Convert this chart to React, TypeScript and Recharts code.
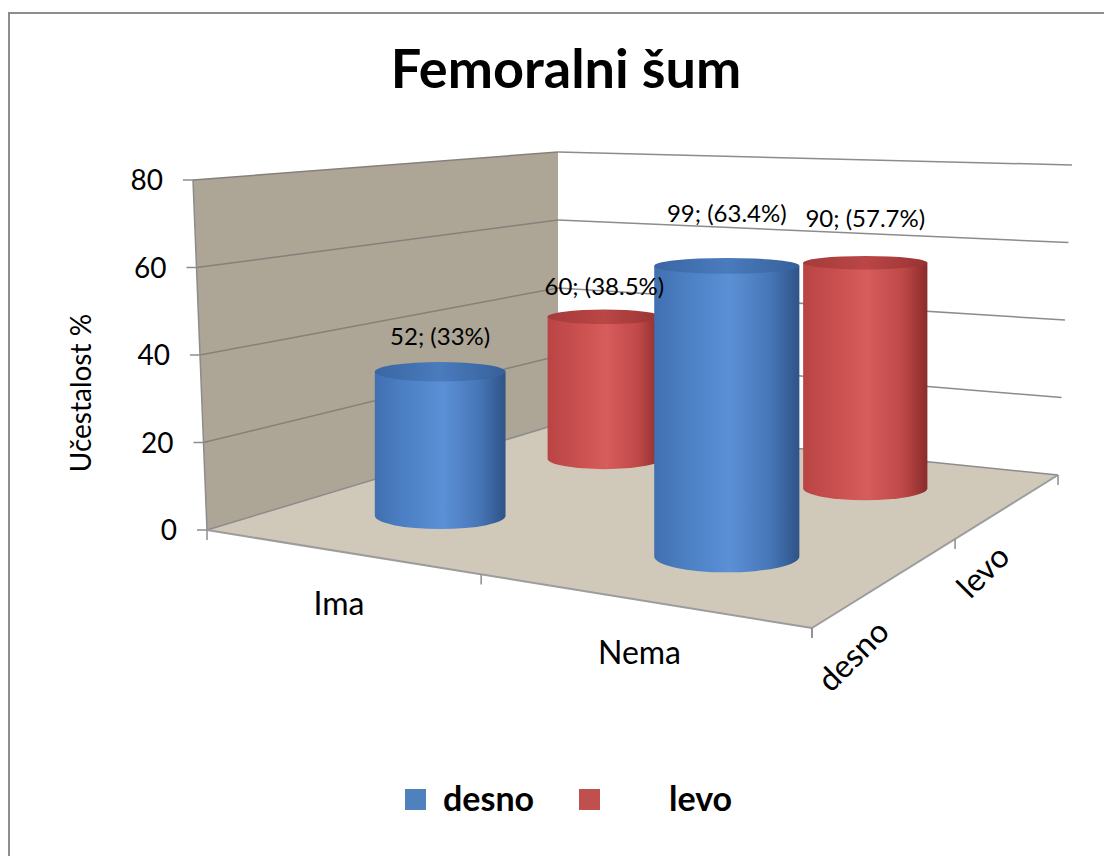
import { BarChart, Bar, XAxis, YAxis, Legend, Customized, LabelList } from "recharts";

// ---- data ----
const categories = ["Ima", "Nema"];
const desnoPercent = [33, 63.4];
const levoPercent = [38.5, 57.7];
const desnoCount = [52, 99];
const levoCount = [60, 90];
const yTicks = [0, 20, 40, 60, 80];
const seriesNames = ["desno", "levo"];

const data = categories.map((name, i) => ({
  name,
  desno: desnoPercent[i],
  levo: levoPercent[i],
}));

// ---- layout ----
const W = 1104;
const H = 848;
const FONT = "Lato, 'Open Sans', sans-serif";
const PLOT = { left: 199, top: 172, right: 804, bottom: 522 };
const Y_MAX = 80;
const AXIS_K = (PLOT.bottom - PLOT.top) / Y_MAX;
const BAR_SIZE = 134;

const COLORS: Record<string, string> = { desno: "#4f81bd", levo: "#c0504d" };
const DEPTH: Record<string, number> = { desno: 0.25, levo: 0.75 };

// floor corners: front-left, front-right, back-right, back-left
const FLOOR: [number, number][] = [
  [PLOT.left, PLOT.bottom],
  [PLOT.right, PLOT.bottom + 98],
  [PLOT.right + 246, PLOT.bottom - 55],
  [PLOT.left + 351, PLOT.bottom - 106],
];
// wall tops at the 80 line
const TOP_FL: [number, number] = [PLOT.left - 14, PLOT.top];
const TOP_BL: [number, number] = [FLOOR[3][0], 144];
const TOP_BR: [number, number] = [FLOOR[2][0] + 14, 157];
// vertical px per unit at the floor corners (fl, fr, br, bl)
const V_SCALE = [4.59, 5.03, 3.68, 3.24];
const HORIZON_Y = -31;

// square -> floor homography
function buildProjection(q: [number, number][]) {
  const [[x0, y0], [x1, y1], [x2, y2], [x3, y3]] = q;
  const dx1 = x1 - x2, dx2 = x3 - x2, dx3 = x0 - x1 + x2 - x3;
  const dy1 = y1 - y2, dy2 = y3 - y2, dy3 = y0 - y1 + y2 - y3;
  const den = dx1 * dy2 - dx2 * dy1;
  const g = (dx3 * dy2 - dx2 * dy3) / den;
  const h = (dx1 * dy3 - dx3 * dy1) / den;
  const a = x1 - x0 + g * x1, b = x3 - x0 + h * x3, c = x0;
  const d = y1 - y0 + g * y1, e = y3 - y0 + h * y3, f = y0;
  return (u0: number, w: number) => {
    const u = u0 + 0.04 * u0 * (1 - u0);
    const z = g * u + h * w + 1;
    return { x: (a * u + b * w + c) / z, y: (d * u + e * w + f) / z, z };
  };
}
const project = buildProjection(FLOOR);

function verticalScale(u: number, w: number) {
  const [fl, fr, br, bl] = V_SCALE;
  return (1 - u) * (1 - w) * fl + u * (1 - w) * fr + u * w * br + (1 - u) * w * bl;
}

const lerp = (p: [number, number], q: [number, number], t: number): [number, number] => [
  p[0] + (q[0] - p[0]) * t,
  p[1] + (q[1] - p[1]) * t,
];
const pts = (list: [number, number][]) => list.map((p) => p.join(",")).join(" ");

// place a bar (from the band scale) on the 3D floor
function cylinderGeometry(x: number, width: number, height: number, series: string) {
  const n = categories.length;
  const band = (PLOT.right - PLOT.left) / n;
  const slot = Math.min(n - 1, Math.max(0, Math.floor((x + width / 2 - PLOT.left) / band)));
  const u = (slot + 0.5) / n;
  const w = DEPTH[series];
  const base = project(u, w);
  const k = verticalScale(u, w);
  const rx = width / 2 / base.z;
  const h = (height / AXIS_K) * k;
  return { bx: base.x, by: base.y, ty: base.y - h, rx, k, u };
}

const TONES: Record<string, { body: string[]; top: string[] }> = {
  desno: {
    body: ["#4170b0", "#4d81c6", "#5b90d6", "#4676b7", "#2e5387"],
    top: ["#3a66a3", "#4a7bbd", "#36609a"],
  },
  levo: {
    body: ["#b94444", "#c94f4f", "#d75c5c", "#bf4848", "#8a2c2c"],
    top: ["#a53a3a", "#bb4646", "#983333"],
  },
};

function Cylinder(props: any) {
  const { x, width, height, series } = props;
  const { bx, by, ty, rx } = cylinderGeometry(x, width, height, series);
  const ryB = rx * (by - HORIZON_Y) * 0.000379;
  const ryT = rx * (ty - HORIZON_Y) * 0.000379;
  const tone = TONES[series];
  const bodyId = `cyl-body-${series}`;
  const topId = `cyl-top-${series}`;
  return (
    <g>
      <defs>
        <linearGradient id={bodyId} x1="0" y1="0" x2="1" y2="0">
          {[0, 0.25, 0.52, 0.8, 1].map((o, i) => (
            <stop key={i} offset={o} stopColor={tone.body[i]} />
          ))}
        </linearGradient>
        <linearGradient id={topId} x1="0" y1="0" x2="1" y2="0">
          {[0, 0.5, 1].map((o, i) => (
            <stop key={i} offset={o} stopColor={tone.top[i]} />
          ))}
        </linearGradient>
      </defs>
      <path
        d={`M${bx - rx},${ty} L${bx - rx},${by} A${rx},${ryB} 0 0 0 ${bx + rx},${by} L${bx + rx},${ty} Z`}
        fill={`url(#${bodyId})`}
      />
      <ellipse cx={bx} cy={ty} rx={rx} ry={ryT} fill={`url(#${topId})`} />
    </g>
  );
}

function makeLabel(series: string) {
  const counts = series === "desno" ? desnoCount : levoCount;
  const pcts = series === "desno" ? desnoPercent : levoPercent;
  return (props: any) => {
    const box = props.viewBox && props.viewBox.width != null ? props.viewBox : props;
    const { x, width, height } = box;
    const index = props.index;
    if (x == null || index == null) return null;
    const { bx, ty, k, u } = cylinderGeometry(x, width, height, series);
    const lift = 8 + 6.6 * (u - 0.25);
    return (
      <text x={bx} y={ty - lift * k + 8} textAnchor="middle" fontFamily={FONT} fontSize={24} fill="#000">
        {`${counts[index]}; (${pcts[index]}%)`}
      </text>
    );
  };
}

function Backdrop() {
  const [fl, fr, br, bl] = FLOOR;
  return (
    <g>
      <polygon points={pts([fl, fr, br, bl])} fill="#d0c9ba" />
      <polygon points={pts([fl, TOP_FL, TOP_BL, bl])} fill="#ada696" />
      {yTicks
        .filter((v) => v > 0)
        .map((v) => {
          const t = v / Y_MAX;
          const a = lerp(fl, TOP_FL, t);
          const b = lerp(bl, TOP_BL, t);
          const c = lerp(br, TOP_BR, t);
          return (
            <g key={v}>
              <line x1={a[0]} y1={a[1]} x2={b[0]} y2={b[1]} stroke="#85807a" strokeWidth={1.5} />
              <line x1={b[0]} y1={b[1]} x2={c[0]} y2={c[1]} stroke="#8c8c8c" strokeWidth={1.5} />
            </g>
          );
        })}
      <line x1={fl[0]} y1={fl[1]} x2={bl[0]} y2={bl[1]} stroke="#8c8c8c" strokeWidth={1.5} />
      <line x1={bl[0]} y1={bl[1]} x2={br[0]} y2={br[1]} stroke="#8c8c8c" strokeWidth={1.5} />
      <line x1={fl[0]} y1={fl[1]} x2={TOP_FL[0]} y2={TOP_FL[1]} stroke="#8c8c8c" strokeWidth={1.5} />
      <line x1={fl[0]} y1={fl[1]} x2={fr[0]} y2={fr[1]} stroke="#9c9c9c" strokeWidth={2} />
      <line x1={fr[0]} y1={fr[1]} x2={br[0]} y2={br[1]} stroke="#9c9c9c" strokeWidth={2} />
      {[0, 0.5, 1].map((u) => {
        const p = project(u, 0);
        return <line key={`c${u}`} x1={p.x} y1={p.y} x2={p.x} y2={p.y + 10} stroke="#8c8c8c" strokeWidth={1.5} />;
      })}
      {[0, 0.5, 1].map((w) => {
        const p = project(1, w);
        return <line key={`d${w}`} x1={p.x} y1={p.y} x2={p.x} y2={p.y + 10} stroke="#8c8c8c" strokeWidth={1.5} />;
      })}
      {seriesNames.map((name) => {
        const p = project(1, DEPTH[name]);
        return (
          <text
            key={name}
            transform={`translate(${p.x - 5},${p.y + 48}) rotate(-45)`}
            textAnchor="end"
            dy="0.27em"
            fontFamily={FONT}
            fontSize={32}
            fill="#000"
          >
            {name}
          </text>
        );
      })}
      <text x={558} y={80} textAnchor="middle" fontFamily={FONT} fontWeight={700} fontSize={54} fill="#000">
        Femoralni šum
      </text>
      <text
        transform="translate(83,385) rotate(-90)"
        textAnchor="middle"
        fontFamily={FONT}
        fontSize={28}
        fill="#000"
      >
        Učestalost %
      </text>
    </g>
  );
}

function YTick(props: any) {
  const { y, payload } = props;
  const t = payload.value / Y_MAX;
  const edgeX = PLOT.left + (TOP_FL[0] - PLOT.left) * t;
  return (
    <g>
      <line x1={edgeX - 10} y1={y} x2={edgeX} y2={y} stroke="#8c8c8c" strokeWidth={1.5} />
      <text x={edgeX - 30} y={y + 10} textAnchor="end" fontFamily={FONT} fontSize={28} fill="#000">
        {payload.value}
      </text>
    </g>
  );
}

function XTick(props: any) {
  const { x, payload } = props;
  const u = (x - PLOT.left) / (PLOT.right - PLOT.left);
  const p = project(u, 0);
  return (
    <text x={p.x + 1} y={p.y + 64} textAnchor="middle" fontFamily={FONT} fontSize={32} fill="#000">
      {payload.value}
    </text>
  );
}

const LEGEND_POS = [
  { rect: 397, text: 435 },
  { rect: 571, text: 661 },
];

function LegendBox() {
  return (
    <svg width={W} height={60} style={{ display: "block" }}>
      {seriesNames.map((name, i) => (
        <g key={name}>
          <rect x={LEGEND_POS[i].rect} y={15} width={21} height={21} fill={COLORS[name]} />
          <text x={LEGEND_POS[i].text} y={37} fontFamily={FONT} fontWeight={700} fontSize={34} fill="#000">
            {name}
          </text>
        </g>
      ))}
    </svg>
  );
}

export default function App() {
  return (
    <div style={{ position: "relative", width: W, height: H, overflow: "hidden", fontFamily: FONT }}>
      <div
        style={{
          position: "absolute",
          left: 0,
          top: 4,
          width: W + 100,
          height: H + 100,
          border: "2px solid #8d8d8d",
          boxSizing: "border-box",
        }}
      />
      <div style={{ position: "absolute", left: 0, top: 0 }}>
        <BarChart
          width={W}
          height={H}
          data={data}
          barGap={-BAR_SIZE}
          margin={{ top: PLOT.top, left: PLOT.left - 90, right: W - PLOT.right, bottom: H - PLOT.bottom - 40 }}
        >
          <Customized component={<Backdrop />} />
          <XAxis dataKey="name" height={40} axisLine={false} tickLine={false} tick={<XTick />} interval={0} />
          <YAxis
            width={90}
            domain={[0, Y_MAX]}
            ticks={yTicks}
            interval={0}
            axisLine={false}
            tickLine={false}
            tick={<YTick />}
          />
          <Legend
            verticalAlign="middle"
            layout="horizontal"
            wrapperStyle={{ top: 766, left: 0, width: W, height: 60 }}
            content={() => <LegendBox />}
          />
          <Bar
            dataKey="levo"
            name="levo"
            fill={COLORS.levo}
            barSize={BAR_SIZE}
            isAnimationActive={false}
            shape={(p: any) => <Cylinder {...p} series="levo" />}
          >
            <LabelList dataKey="levo" content={makeLabel("levo")} />
          </Bar>
          <Bar
            dataKey="desno"
            name="desno"
            fill={COLORS.desno}
            barSize={BAR_SIZE}
            isAnimationActive={false}
            shape={(p: any) => <Cylinder {...p} series="desno" />}
          >
            <LabelList dataKey="desno" content={makeLabel("desno")} />
          </Bar>
        </BarChart>
      </div>
    </div>
  );
}
